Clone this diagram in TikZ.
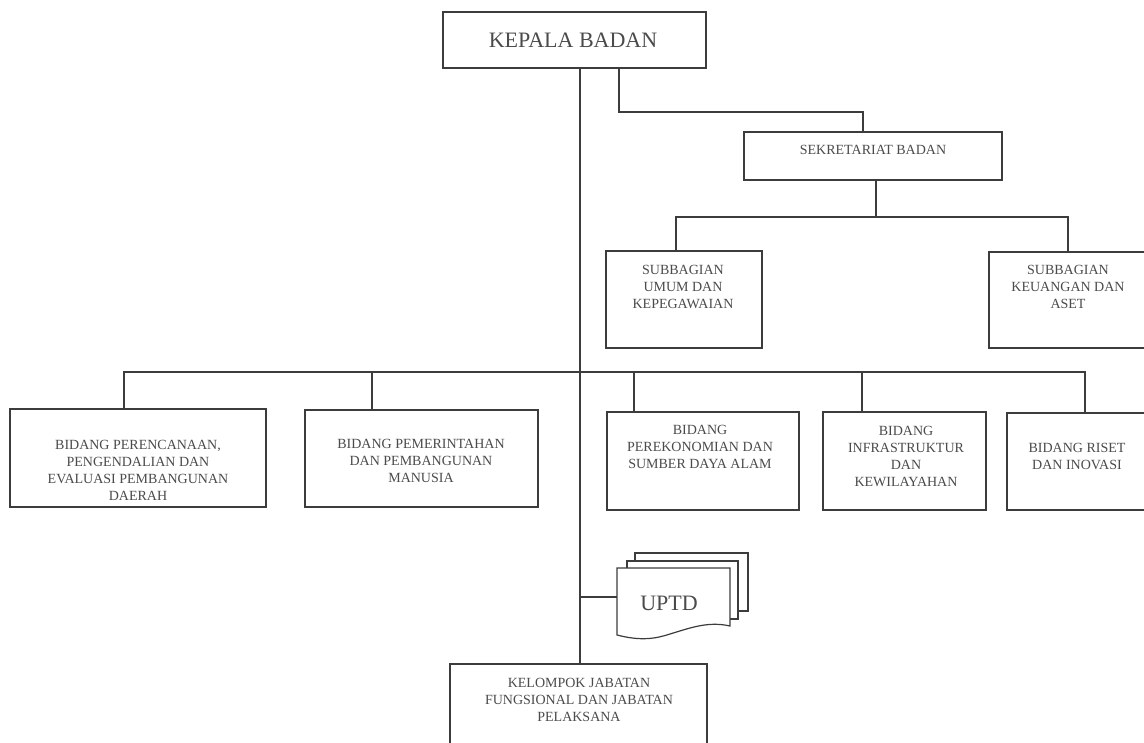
\documentclass[tikz,border=0pt]{standalone}
\usepackage{fontspec}
\setmainfont{Liberation Serif}
\definecolor{linec}{RGB}{60,60,60}
\definecolor{textc}{RGB}{75,75,75}
\tikzset{
  box/.style={draw=linec, line width=1.2pt, fill=white, inner sep=0pt},
  txt/.style={text=textc, align=center, inner sep=0pt, font=\fontsize{14}{17}\selectfont},
  bigtxt/.style={text=textc, align=center, inner sep=0pt, font=\fontsize{22}{26}\selectfont},
  conn/.style={draw=linec, line width=1.2pt},
  sheet/.style={draw=linec, line width=1.2pt, fill=white},
}
\begin{document}
\begin{tikzpicture}[x=1pt,y=-1pt]
\clip (0,0) rectangle (1144,743);
\fill[white] (0,0) rectangle (1144,743);

% boxes
\node[box, minimum width=263pt, minimum height=56pt] (kep) at (574.5,40) {};
\node[bigtxt] (kept) at (573,40) {KEPALA BADAN};

\node[box, minimum width=258pt, minimum height=48pt] (sek) at (873,156) {};
\node[txt] (sekt) at (873,150) {SEKRETARIAT BADAN};

\node[box, minimum width=156pt, minimum height=97pt] (umum) at (684,299.5) {};
\node[txt] (umumt) at (683,287) {SUBBAGIAN\\UMUM DAN\\KEPEGAWAIAN};

\node[box, minimum width=161pt, minimum height=96pt] (keu) at (1069.5,300) {};
\node[txt] (keut) at (1068,287) {SUBBAGIAN\\KEUANGAN DAN\\ASET};

\node[box, minimum width=256pt, minimum height=98pt] (b1) at (138,458) {};
\node[txt] (b1t) at (138,470) {BIDANG PERENCANAAN,\\PENGENDALIAN DAN\\EVALUASI PEMBANGUNAN\\DAERAH};

\node[box, minimum width=233pt, minimum height=97pt] (b2) at (421.5,458.5) {};
\node[txt] (b2t) at (421,461) {BIDANG PEMERINTAHAN\\DAN PEMBANGUNAN\\MANUSIA};

\node[box, minimum width=192pt, minimum height=98pt] (b3) at (703,461) {};
\node[txt] (b3t) at (700,447) {BIDANG\\PEREKONOMIAN DAN\\SUMBER DAYA ALAM};

\node[box, minimum width=163pt, minimum height=98pt] (b4) at (904.5,461) {};
\node[txt] (b4t) at (906,456) {BIDANG\\INFRASTRUKTUR\\DAN\\KEWILAYAHAN};

\node[box, minimum width=143pt, minimum height=97pt] (b5) at (1078.5,461.5) {};
\node[txt] (b5t) at (1077,456.5) {BIDANG RISET\\DAN INOVASI};

\node[box, minimum width=257pt, minimum height=96pt] (kel) at (578.5,712) {};
\node[txt] (kelt) at (579,700) {KELOMPOK JABATAN\\FUNGSIONAL DAN JABATAN\\PELAKSANA};

% UPTD multi-document shape
\path[sheet] (635,553) rectangle (748,611);
\path[sheet] (627,561) rectangle (738,619);
\path[sheet] (617,568) -- (730,568) -- (730,626)
   .. controls (708,621) and (690,628) .. (670,634)
   .. controls (655,639) and (640,641) .. (617,635) -- cycle;
\node[bigtxt] (uptd) at (669,603) {UPTD};

% connectors
\coordinate (mx) at (580,0);
\draw[conn] (kep.south -| mx) -- (kel.north -| mx);

\coordinate (s1) at (619,112);
\coordinate (s2) at (863,112);
\draw[conn] (kep.south -| s1) -- (s1) -- (s2) -- (sek.north -| s2);

\coordinate (t0) at (876,217);
\coordinate (t1) at (676,217);
\coordinate (t2) at (1068,217);
\draw[conn] (sek.south -| t0) -- (t0);
\draw[conn] (umum.north -| t1) -- (t1) -- (t2) -- (keu.north -| t2);

\coordinate (u1) at (124,372);
\coordinate (u2) at (372,372);
\coordinate (u3) at (634,372);
\coordinate (u4) at (862,372);
\coordinate (u5) at (1085,372);
\draw[conn] (b1.north -| u1) -- (u1) -- (u5) -- (b5.north -| u5);
\foreach \i in {2,3,4} { \draw[conn] (u\i) -- (b\i.north -| u\i); }

\coordinate (uq) at (617,597);
\draw[conn] (uq -| mx) -- (uq);
\end{tikzpicture}
\end{document}
